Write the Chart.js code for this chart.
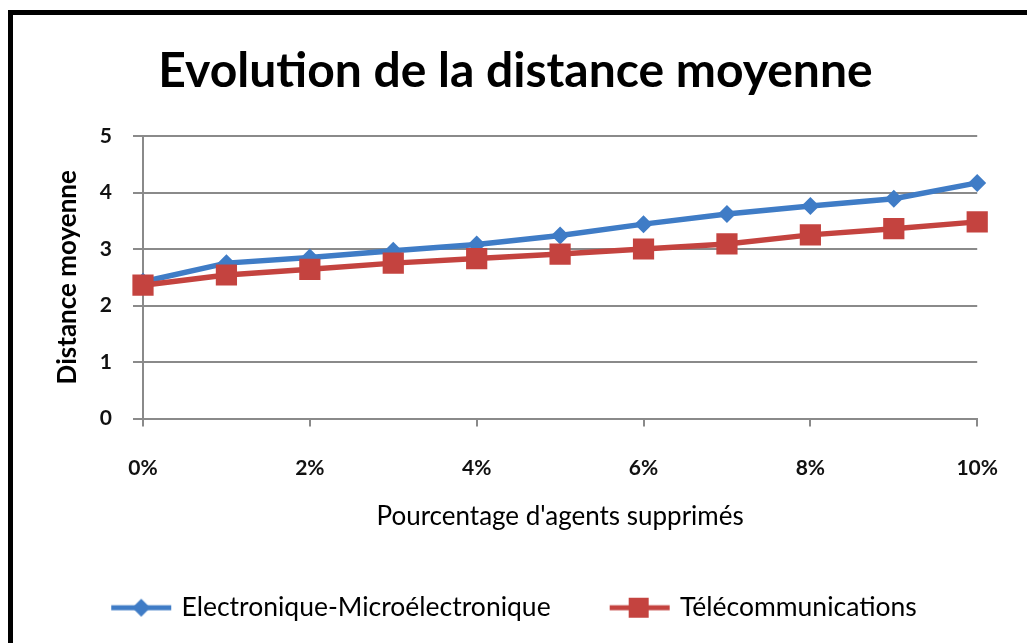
<!DOCTYPE html>
<html>
<head>
<meta charset="utf-8">
<script src="https://cdn.jsdelivr.net/npm/chart.js@4/dist/chart.umd.min.js"></script>
<style>
  html, body { margin: 0; padding: 0; background: #fff; overflow: hidden; }
  #wrap { position: absolute; left: 0; top: 0; width: 1027px; height: 643px; }
  #frame { position: absolute; left: 8px; top: 10px; width: 1100px; height: 700px;
           border-left: 5px solid #000; border-top: 5px solid #000; pointer-events: none; }
</style>
</head>
<body>
<div id="wrap"><canvas id="distanceChart"></canvas></div>
<div id="frame"></div>
<script>
// data
const categories = ['0%', '1%', '2%', '3%', '4%', '5%', '6%', '7%', '8%', '9%', '10%'];
const electroniqueValues = [2.42, 2.75, 2.85, 2.97, 3.08, 3.24, 3.44, 3.62, 3.76, 3.89, 4.17];
const telecomValues = [2.36, 2.54, 2.64, 2.75, 2.83, 2.91, 3.00, 3.09, 3.25, 3.36, 3.48];
const seriesNames = ['Electronique-Microélectronique', 'Télécommunications'];
const yMin = 0, yMax = 5, yStep = 1;

const BLUE = '#3F7CC6';
const RED = '#C4433F';
const GRID = '#8a8a8a';
const FONT = 'Lato, "Open Sans", sans-serif';

// legend swatch: short line with the marker on top
function swatch(color, marker) {
    const c = document.createElement('canvas');
    c.width = 64; c.height = 24;
    const g = c.getContext('2d');
    g.strokeStyle = color; g.lineWidth = 5;
    g.beginPath(); g.moveTo(2, 12); g.lineTo(62, 12); g.stroke();
    g.fillStyle = color;
    if (marker === 'diamond') {
        g.beginPath(); g.moveTo(32, 3); g.lineTo(41, 12); g.lineTo(32, 21); g.lineTo(23, 12); g.closePath(); g.fill();
    } else {
        g.fillRect(21, 2, 20, 20);
    }
    return c;
}
const swatches = [swatch(BLUE, 'diamond'), swatch(RED, 'square')];

const ctx = document.getElementById('distanceChart').getContext('2d');
new Chart(ctx, {
    type: 'line',
    data: {
        labels: categories,
        datasets: [
            { label: seriesNames[0], data: electroniqueValues, borderColor: BLUE, backgroundColor: BLUE,
              borderWidth: 5.5, pointStyle: 'rectRot', pointRadius: 9, pointBorderWidth: 0, order: 1 },
            { label: seriesNames[1], data: telecomValues, borderColor: RED, backgroundColor: RED,
              borderWidth: 5.5, pointStyle: 'rect', pointRadius: 15, pointBorderWidth: 0, order: 0 }
        ]
    },
    options: {
        responsive: true,
        maintainAspectRatio: false,
        animation: false,
        layout: { padding: { left: 52, right: 48, top: 0, bottom: 12 } },
        plugins: {
            tooltip: { enabled: false },
            title: {
                display: true,
                text: 'Evolution de la distance moyenne',
                color: '#000',
                font: { family: FONT, size: 48, weight: 'bold' },
                padding: { top: 43, bottom: 35.4 }
            },
            legend: {
                position: 'bottom',
                labels: {
                    usePointStyle: true,
                    pointStyleWidth: 54,
                    padding: 62,
                    color: '#000',
                    font: { family: FONT, size: 26.5 },
                    generateLabels: (chart) => chart.data.datasets.map((ds, i) => ({
                        text: ds.label, pointStyle: swatches[i], datasetIndex: i,
                        fillStyle: ds.borderColor, strokeStyle: ds.borderColor, lineWidth: 0,
                        hidden: false, fontColor: '#000'
                    }))
                }
            }
        },
        scales: {
            x: {
                offset: false,
                afterFit: (scale) => { scale.height = 114; },
                border: { display: true, color: GRID, width: 2 },
                grid: {
                    drawOnChartArea: false, drawTicks: true, tickLength: 8, lineWidth: 2,
                    color: (c) => (c.index % 2 === 0 ? GRID : 'rgba(0,0,0,0)')
                },
                ticks: {
                    autoSkip: false, maxRotation: 0, padding: 29, color: '#111',
                    font: { family: FONT, size: 21, weight: 'bold' },
                    callback: (v, i) => (i % 2 === 0 ? categories[i] : '')
                },
                title: {
                    display: true, text: "Pourcentage d'agents supprimés", color: '#000',
                    font: { family: FONT, size: 26 }, padding: { top: 0, bottom: 0 }
                }
            },
            y: {
                min: yMin, max: yMax,
                afterFit: (scale) => { scale.width = 91; },
                border: { display: true, color: GRID, width: 2 },
                grid: { color: GRID, lineWidth: 2, drawTicks: true, tickLength: 10 },
                ticks: { stepSize: yStep, padding: 21, color: '#111', font: { family: FONT, size: 21, weight: 'bold' } },
                title: {
                    display: true, text: 'Distance moyenne', color: '#000',
                    font: { family: FONT, size: 26, weight: 'bold' }, padding: 0
                }
            }
        }
    }
});
</script>
</body>
</html>
